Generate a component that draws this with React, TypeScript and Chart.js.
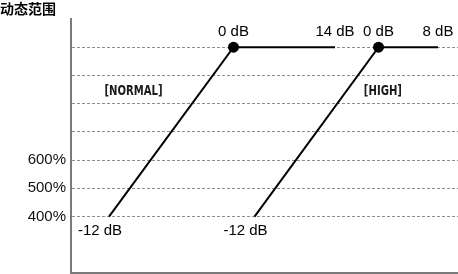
import { useEffect, useRef } from 'react';
import { Chart, registerables } from 'chart.js';

Chart.register(...registerables);

// Dynamic range (%) reached at each input level; x is the schematic input position (0–100).
const normalInput = [9.82, 41.99, 68.22];
const normalRange = [400, 1000, 1000];
const normalLevels = ['-12 dB', '0 dB', '14 dB'];

const highInput = [47.42, 79.46, 94.83];
const highRange = [400, 1000, 1000];
const highLevels = ['-12 dB', '0 dB', '8 dB'];

// Mode captions
const modeNames = ['[NORMAL]', '[HIGH]'];
const modeInput = [16.15, 80.6];
const modeRange = [843, 843];

// Y axis
const axisTitle = '动态范围';
const rangeMin = 200;
const rangeMax = 1100;
const labelledRanges = [400, 500, 600];
const gridRanges = [400, 500, 600, 700, 800, 900, 1000];

const series = [
  { input: normalInput, range: normalRange, levels: normalLevels },
  { input: highInput, range: highRange, levels: highLevels },
];

const LABEL_FONT = '15px "Liberation Sans", Arial, sans-serif';

const annotations = {
  id: 'annotations',
  afterDatasetsDraw(chart: Chart) {
    const { ctx } = chart;
    const xs = chart.scales.x;
    const ys = chart.scales.y;
    ctx.save();
    ctx.fillStyle = '#000';
    ctx.font = LABEL_FONT;
    ctx.textAlign = 'center';
    ctx.textBaseline = 'alphabetic';
    series.forEach((s) => {
      s.input.forEach((v, i) => {
        const px = xs.getPixelForValue(v);
        const py = ys.getPixelForValue(s.range[i]);
        if (i === 0) {
          ctx.fillText(s.levels[i], px - 9, py + 18);
        } else {
          ctx.fillText(s.levels[i], px, py - 11);
        }
      });
    });

    // Narrow captions for the two modes
    ctx.font = 'bold 14px "DejaVu Sans", sans-serif';
    ctx.fillStyle = '#1a1a1a';
    modeNames.forEach((name, i) => {
      const px = xs.getPixelForValue(modeInput[i]);
      const py = ys.getPixelForValue(modeRange[i]);
      ctx.save();
      ctx.translate(px, py);
      ctx.scale(0.72, 1);
      ctx.textBaseline = 'middle';
      ctx.fillText(name, 0, 0);
      ctx.restore();
    });
    ctx.restore();
  },
  afterDraw(chart: Chart) {
    const { ctx } = chart;
    ctx.save();
    ctx.fillStyle = '#000';
    ctx.font = 'bold 14px "Noto Sans CJK SC", sans-serif';
    ctx.textAlign = 'left';
    ctx.textBaseline = 'top';
    ctx.fillText(axisTitle, 0, 2);
    ctx.restore();
  },
};

export default function App() {
  const canvasRef = useRef<HTMLCanvasElement | null>(null);

  useEffect(() => {
    const canvas = canvasRef.current;
    if (!canvas) return;
    const lineDataset = (s: typeof series[number]) => ({
      data: s.input.map((x, i) => ({ x, y: s.range[i] })),
      borderColor: '#000',
      backgroundColor: '#000',
      borderWidth: 2,
      showLine: true,
      tension: 0,
      pointRadius: s.input.map((_, i) => (i === 1 ? 5.5 : 0)),
      pointHoverRadius: 0,
      pointBorderWidth: 0,
    });

    const chart = new Chart(canvas, {
      type: 'scatter',
      data: { datasets: series.map(lineDataset) },
      options: {
        responsive: false,
        animation: false,
        events: [],
        layout: { padding: { top: 19, bottom: 1, left: 0, right: 0 } },
        plugins: {
          legend: { display: false },
          title: { display: false },
          tooltip: { enabled: false },
        },
        scales: {
          x: {
            type: 'linear',
            min: 0,
            max: 100,
            grid: { display: false, drawTicks: false },
            ticks: { display: false },
            border: { display: true, color: '#7a7a7a', width: 2 },
          },
          y: {
            type: 'linear',
            min: rangeMin,
            max: rangeMax,
            afterFit: (scale: any) => {
              scale.width = 71;
              scale.paddingTop = 0;
              scale.paddingBottom = 0;
            },
            grid: {
              drawTicks: false,
              lineWidth: 1,
              color: (c: any) =>
                c.tick && gridRanges.includes(c.tick.value) ? '#8c8c8c' : 'rgba(0,0,0,0)',
            },
            border: { display: true, color: '#7a7a7a', width: 2, dash: [3, 2] },
            ticks: {
              stepSize: 100,
              autoSkip: false,
              padding: 5,
              color: '#111',
              font: { family: '"Liberation Sans", Arial, sans-serif', size: 15 },
              callback: (v: any) => (labelledRanges.includes(Number(v)) ? `${v}%` : ''),
            },
          },
        },
      },
      plugins: [annotations],
    });
    return () => chart.destroy();
  }, []);

  return (
    <div style={{ position: 'fixed', left: 0, top: 0, width: 458, height: 274, background: '#fff' }}>
      <canvas ref={canvasRef} width={458} height={274} />
    </div>
  );
}
